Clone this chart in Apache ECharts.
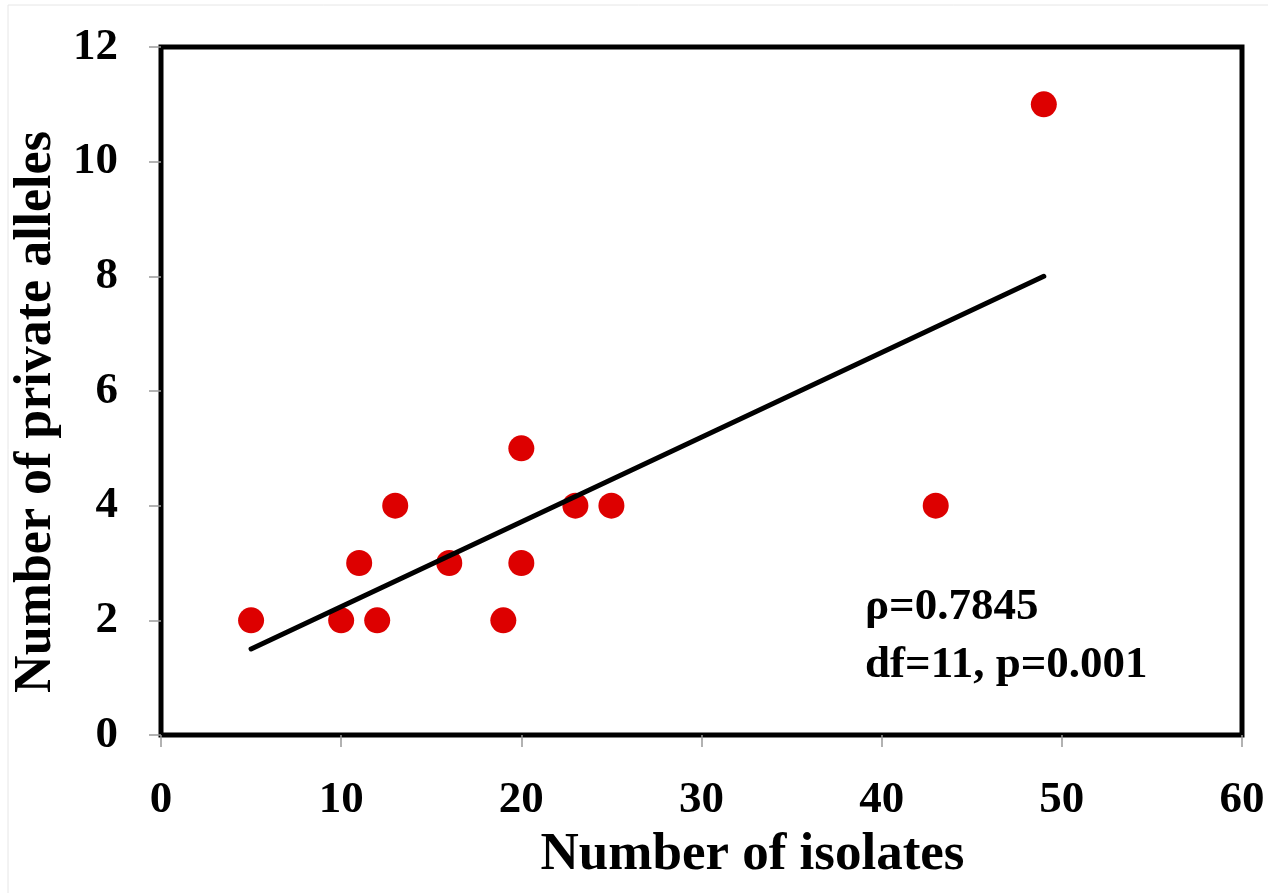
<!DOCTYPE html>
<html>
<head>
<meta charset="utf-8">
<script src="https://cdn.jsdelivr.net/npm/echarts@6/dist/echarts.min.js"></script>
<style>
html,body{margin:0;padding:0;background:#fff;}
#chart{width:1268px;height:893px;}
</style>
</head>
<body>
<div id="chart"></div>
<script>
const isolates = [5, 10, 11, 12, 13, 16, 19, 20, 20, 23, 25, 43, 49];
const privateAlleles = [2, 2, 3, 2, 4, 3, 2, 5, 3, 4, 4, 4, 11];
const trendX = [5, 49];
const trendY = [1.5, 8.0];
const annotation = ['ρ=0.7845', 'df=11, p=0.001'];
const xTitle = 'Number of isolates';
const yTitle = 'Number of private alleles';

const font = '"Liberation Serif", "Times New Roman", serif';
const chart = echarts.init(document.getElementById('chart'));
chart.setOption({
  backgroundColor: '#fff',
  animation: false,
  grid: {left: 161, right: 26, top: 47, bottom: 158, show: true, borderColor: '#000', borderWidth: 5, backgroundColor: 'transparent'},
  xAxis: {
    type: 'value', min: 0, max: 60, interval: 10,
    name: xTitle, nameLocation: 'middle', nameGap: 94,
    nameTextStyle: {fontFamily: font, fontWeight: 'bold', fontSize: 53, color: '#000', padding: [0, 0, 0, 102]},
    axisLine: {show: false},
    axisTick: {show: true, length: 12, lineStyle: {color: '#999', width: 1.5}},
    axisLabel: {fontFamily: font, fontWeight: 'bold', fontSize: 45, color: '#000', margin: 43},
    splitLine: {show: false}
  },
  yAxis: {
    type: 'value', min: 0, max: 12, interval: 2,
    name: yTitle, nameLocation: 'middle', nameGap: 92, nameRotate: 90,
    nameTextStyle: {fontFamily: font, fontWeight: 'bold', fontSize: 52, color: '#000', padding: [0, 42, 0, 0]},
    axisLine: {show: false},
    axisTick: {show: true, length: 12, lineStyle: {color: '#999', width: 1.5}},
    axisLabel: {fontFamily: font, fontWeight: 'bold', fontSize: 45, color: '#000', margin: 43},
    splitLine: {show: false}
  },
  series: [
    {
      type: 'scatter', z: 2,
      data: isolates.map((x, i) => [x, privateAlleles[i]]),
      symbol: 'circle', symbolSize: 26,
      itemStyle: {color: '#DD0000', opacity: 1}
    },
    {
      type: 'line', z: 3,
      data: trendX.map((x, i) => [x, trendY[i]]),
      symbol: 'none',
      lineStyle: {color: '#000', width: 5, cap: 'round'}
    }
  ],
  graphic: [
    {type: 'text', left: 865, top: 585, style: {text: annotation[0], font: 'bold 45px ' + font, fill: '#000'}},
    {type: 'text', left: 865, top: 643, style: {text: annotation[1], font: 'bold 45px ' + font, fill: '#000'}},
    {type: 'rect', shape: {x: 8, y: 5, width: 1270, height: 900}, style: {fill: 'none', stroke: '#e6e6e6', lineWidth: 1}, silent: true}
  ]
});
</script>
</body>
</html>
